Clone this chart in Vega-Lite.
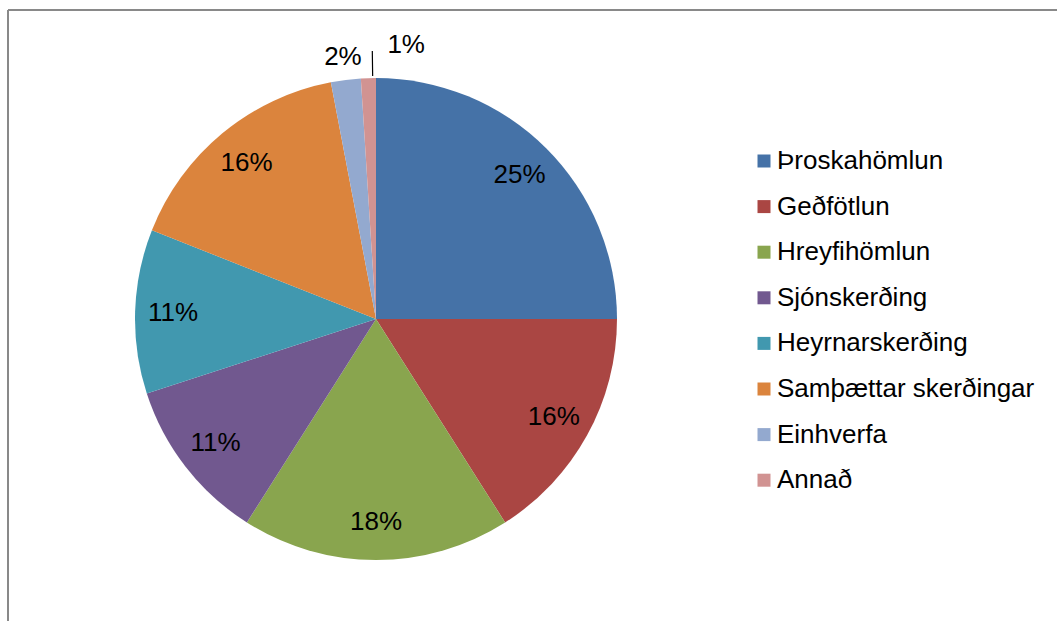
{
  "$schema": "https://vega.github.io/schema/vega-lite/v6.json",
  "width": 1049,
  "height": 611,
  "autosize": {"type": "none"},
  "padding": {"left": 8, "top": 10, "right": 0, "bottom": 0},
  "background": "white",
  "view": {"stroke": "#898989", "strokeWidth": 2, "strokeDash": [1049, 1660, 611, 0]},
  "config": {
    "style": {"view": {"stroke": "#898989", "strokeWidth": 2, "strokeDash": [1049, 1660, 611, 0]}},
    "font": "Liberation Sans"
  },
  "data": {
    "values": [
      {"n": 1, "category": "Þroskahömlun", "value": 0.25},
      {"n": 2, "category": "Geðfötlun", "value": 0.16},
      {"n": 3, "category": "Hreyfihömlun", "value": 0.18},
      {"n": 4, "category": "Sjónskerðing", "value": 0.11},
      {"n": 5, "category": "Heyrnarskerðing", "value": 0.11},
      {"n": 6, "category": "Samþættar skerðingar", "value": 0.16},
      {"n": 7, "category": "Einhverfa", "value": 0.02},
      {"n": 8, "category": "Annað", "value": 0.01}
    ]
  },
  "layer": [
    {
      "mark": {"type": "arc", "x": 368, "y": 309, "outerRadius": 241, "strokeWidth": 0},
      "encoding": {
        "theta": {"field": "value", "type": "quantitative", "stack": true},
        "order": {"field": "n", "type": "quantitative"},
        "color": {
          "field": "category",
          "type": "nominal",
          "scale": {
            "domain": ["Þroskahömlun", "Geðfötlun", "Hreyfihömlun", "Sjónskerðing", "Heyrnarskerðing", "Samþættar skerðingar", "Einhverfa", "Annað"],
            "range": ["#4572A7", "#AA4643", "#89A54E", "#71588F", "#4198AF", "#DB843D", "#93A9CF", "#D19392"]
          },
          "legend": {
            "title": null,
            "orient": "none",
            "legendX": 743,
            "legendY": 138,
            "padding": 0,
            "symbolType": "square",
            "symbolSize": 169,
            "symbolStrokeWidth": 0,
            "labelFontSize": 26,
            "labelColor": "black",
            "labelFont": "Liberation Sans",
            "labelOffset": 0,
            "rowPadding": 19.6,
            "labelLimit": 400
          }
        }
      }
    },
    {
      "mark": {"type": "text", "x": 368, "y": 309, "radius": 203, "fontSize": 26, "color": "black"},
      "encoding": {
        "theta": {"field": "value", "type": "quantitative", "stack": true},
        "order": {"field": "n", "type": "quantitative"},
        "text": {"condition": {"test": "datum.value >= 0.05", "field": "value", "format": ".0%"}, "value": ""}
      }
    },
    {
      "mark": {"type": "text", "x": 368, "y": 309, "radius": 264, "fontSize": 26, "color": "black"},
      "encoding": {
        "theta": {"field": "value", "type": "quantitative", "stack": true},
        "order": {"field": "n", "type": "quantitative"},
        "text": {"condition": {"test": "datum.category === 'Einhverfa'", "field": "value", "format": ".0%"}, "value": ""}
      }
    },
    {
      "mark": {"type": "text", "x": 368, "y": 309, "radius": 276, "thetaOffset": 0.141, "fontSize": 26, "color": "black"},
      "encoding": {
        "theta": {"field": "value", "type": "quantitative", "stack": true},
        "order": {"field": "n", "type": "quantitative"},
        "text": {"condition": {"test": "datum.category === 'Annað'", "field": "value", "format": ".0%"}, "value": ""}
      }
    },
    {
      "transform": [{"filter": "datum.category === 'Annað'"}],
      "mark": {"type": "arc", "x": 368, "y": 309, "theta": 6.2694, "theta2": 6.2694, "radius": 243, "radius2": 268, "fill": null, "stroke": "black", "strokeWidth": 1.2},
      "encoding": {}
    }
  ]
}
